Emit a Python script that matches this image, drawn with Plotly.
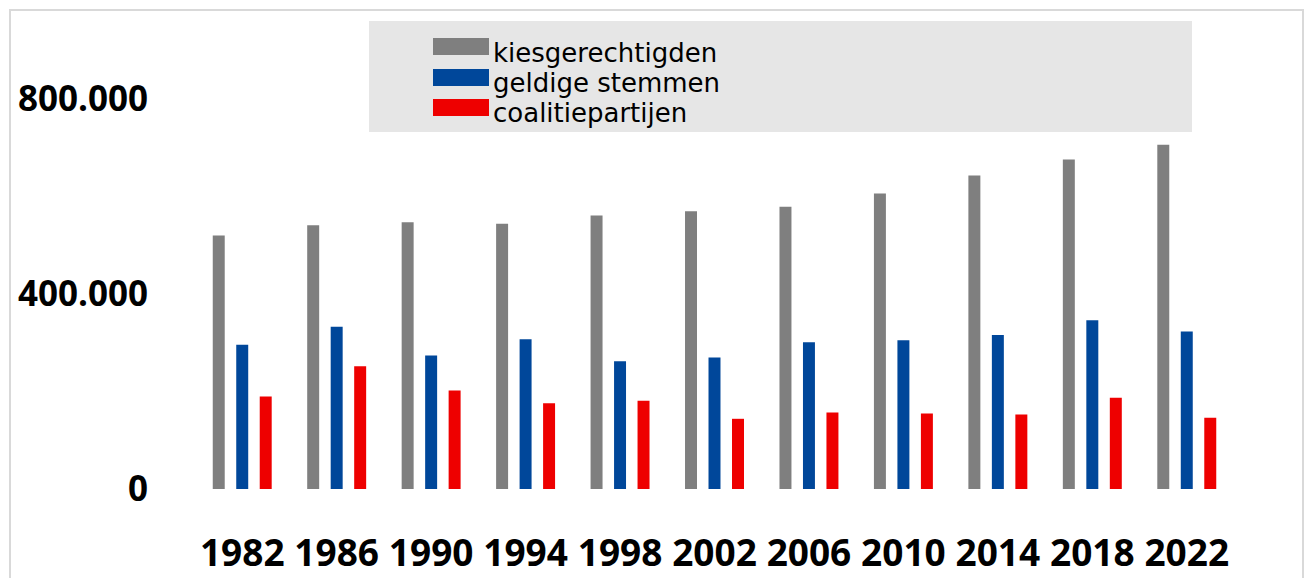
import plotly.graph_objects as go

years = ["1982", "1986", "1990", "1994", "1998", "2002", "2006", "2010", "2014", "2018", "2022"]
kiesgerechtigden = [520000, 541000, 547000, 544000, 561000, 570000, 579000, 606000, 643000, 676000, 706000]
geldige_stemmen = [296000, 333000, 274000, 307000, 262000, 270000, 301000, 305000, 316000, 346000, 323000]
coalitiepartijen = [190000, 252000, 202000, 176000, 181000, 144000, 157000, 155000, 153000, 187000, 146000]

series_names = ["kiesgerechtigden", "geldige stemmen", "coalitiepartijen"]
series_colors = ["#7F7F7F", "#00479A", "#EE0000"]

y_tickvals = [0, 400000, 800000]
y_ticktext = ["0", "400.000", "800.000"]

W, H = 1309, 578
ML, MR, MT, MB = 195, 75, 21, 89
PW, PH = W - ML - MR, H - MT - MB


def px(x):
    return (x - ML) / PW


def py(y):
    return (H - MB - y) / PH


fig = go.Figure()
for name, vals, col in zip(series_names, [kiesgerechtigden, geldige_stemmen, coalitiepartijen], series_colors):
    fig.add_trace(go.Bar(x=years, y=vals, name=name, marker=dict(color=col, line=dict(width=0))))

shapes = []
annotations = []
# outer chart border
shapes.append(dict(type="rect", xref="paper", yref="paper",
                   x0=px(10), x1=px(1303), y0=py(620), y1=py(10),
                   line=dict(color="#D9D9D9", width=2), fillcolor="rgba(0,0,0,0)", layer="below"))
# legend background
shapes.append(dict(type="rect", xref="paper", yref="paper",
                   x0=px(369), x1=px(1192), y0=py(132), y1=py(21),
                   line=dict(width=0), fillcolor="#E6E6E6", layer="below"))
sw_tops = [38, 69, 99]
text_mid = [53, 83, 113]
for i, (name, col) in enumerate(zip(series_names, series_colors)):
    shapes.append(dict(type="rect", xref="paper", yref="paper",
                       x0=px(433), x1=px(489), y0=py(sw_tops[i] + 17), y1=py(sw_tops[i]),
                       line=dict(width=0), fillcolor=col))
    annotations.append(dict(xref="paper", yref="paper", x=px(491), y=py(text_mid[i]),
                            xanchor="left", yanchor="middle", showarrow=False, text=name,
                            font=dict(family="DejaVu Sans", size=26, color="#000000")))

fig.update_layout(
    width=W, height=H,
    margin=dict(l=ML, r=MR, t=MT, b=MB, pad=0, autoexpand=False),
    paper_bgcolor="white", plot_bgcolor="white",
    barmode="group", bargap=0.254, bargroupgap=0.49,
    showlegend=False,
    shapes=shapes, annotations=annotations,
    font=dict(family="Open Sans", color="#000000"),
)
fig.update_xaxes(type="category", showgrid=False, showline=False, zeroline=False,
                 automargin=False, ticks="", ticklabelstandoff=39,
                 tickfont=dict(family="Open Sans", size=37, color="#000000", weight="bold"))
fig.update_yaxes(range=[0, PH * 2051.3], tickvals=y_tickvals, ticktext=y_ticktext,
                 showgrid=False, showline=False, zeroline=False, ticks="",
                 automargin=False, ticklabelstandoff=46,
                 tickfont=dict(family="Open Sans", size=35, color="#000000", weight="bold"))

page_css = ("document.documentElement.style.margin='0';document.documentElement.style.padding='0';"
            "document.documentElement.style.overflow='hidden';"
            "document.body.style.margin='0';document.body.style.padding='0';"
            "document.body.style.overflow='hidden';")

fig.write_html("out.html", post_script=page_css, config={"displayModeBar": False})
